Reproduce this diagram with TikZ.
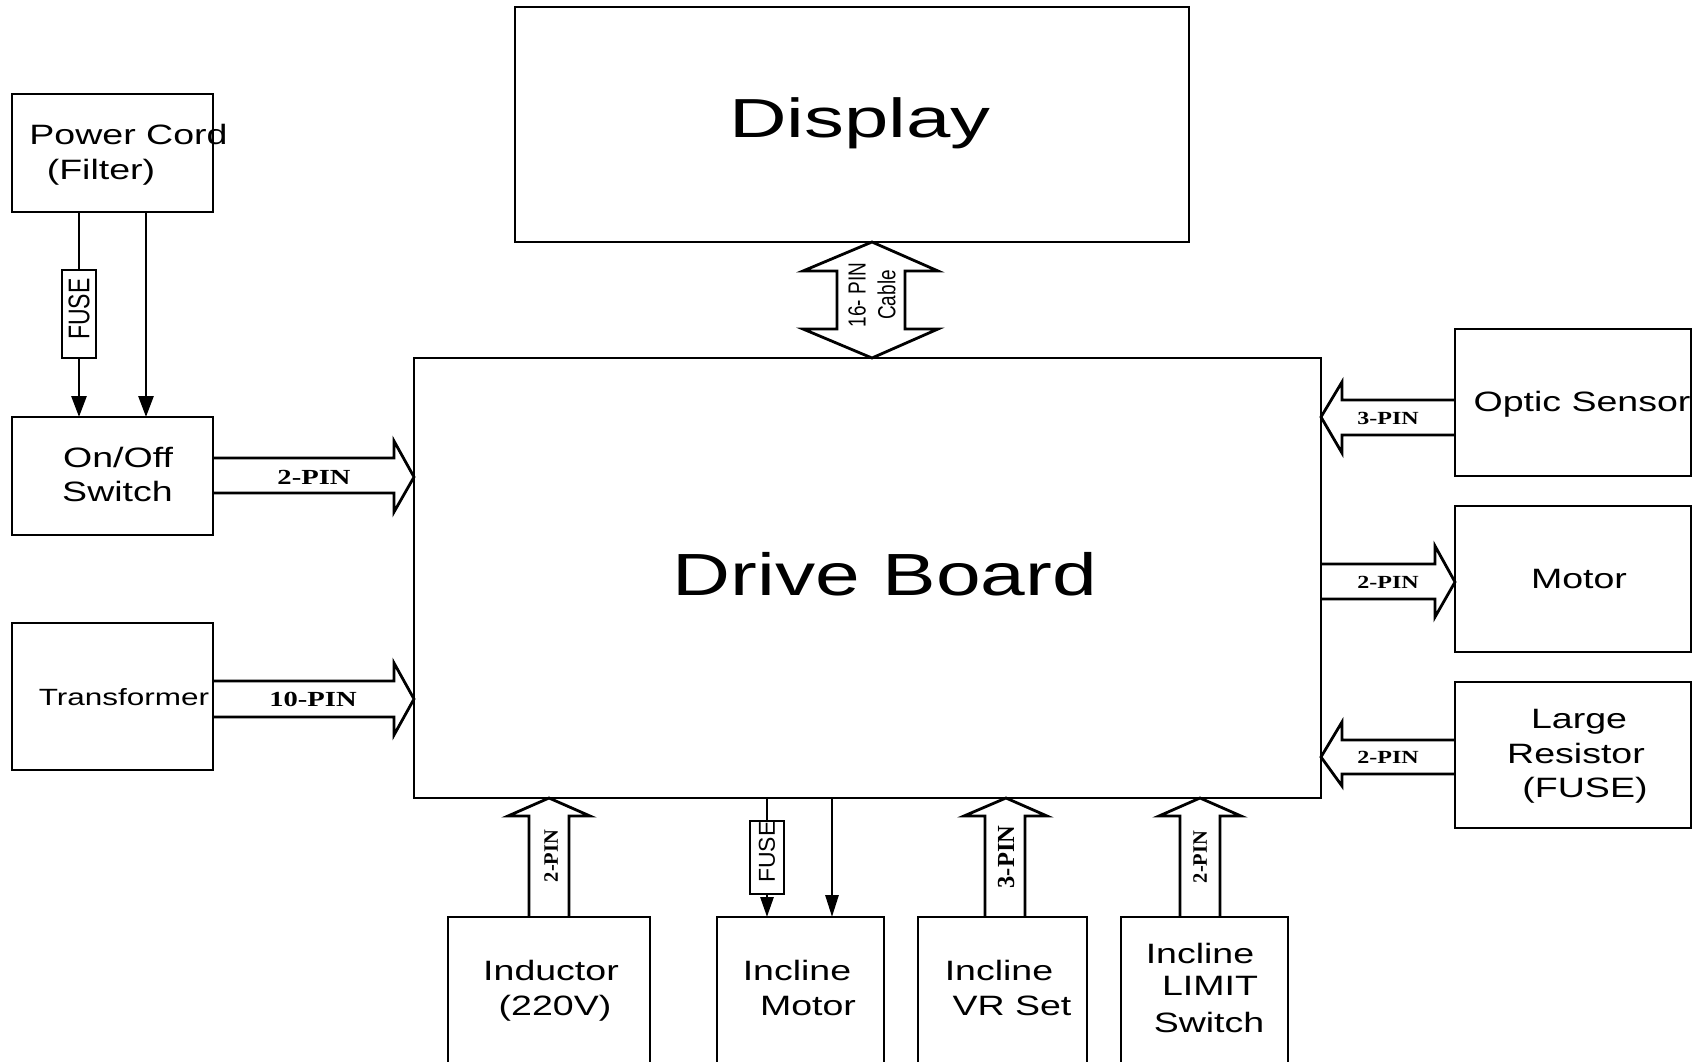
\documentclass[tikz,border=0pt]{standalone}
\usepackage{fontspec}
\setmainfont{Liberation Sans}
\newfontfamily\pinfont{Liberation Serif}
\usetikzlibrary{arrows.meta,calc}
\newcommand\bx[5]{\node[box, minimum width={(#4)-(#2)}, minimum height={(#5)-(#3)}] (#1) at ({((#2)+(#4))/2},{((#3)+(#5))/2}) {};}
\begin{document}
\begin{tikzpicture}[x=1pt,y=-1pt,
  box/.style={draw, line width=2.8pt, inner sep=0pt, outer sep=0pt},
  fat/.style={draw, line width=2.8pt, line join=miter},
  wire/.style={draw, line width=2.8pt},
  arr/.style={wire, -{Triangle[length=21pt,width=15pt]}},
  txt/.style={inner sep=0pt, anchor=base, xscale=1.34, font=\fontsize{28}{34}\selectfont},
  big/.style={inner sep=0pt, anchor=base, xscale=1.35, font=\fontsize{59.5}{70}\selectfont},
  disp/.style={inner sep=0pt, anchor=base, xscale=1.45, font=\fontsize{55}{64}\selectfont},
  pinh/.style={inner sep=0pt, anchor=base, xscale=1.33, font=\pinfont\bfseries\fontsize{21.5}{25}\selectfont},
  pinr/.style={inner sep=0pt, anchor=base, xscale=1.3, font=\pinfont\bfseries\fontsize{18.5}{22}\selectfont},
  pinv/.style={inner sep=0pt, anchor=center, rotate=90, font=\pinfont\bfseries\fontsize{#1}{#1}\selectfont},
  vtxt/.style={inner sep=0pt, anchor=center, rotate=90, yscale=1.3, align=center, font=\fontsize{#1}{23}\selectfont}
]
\useasboundingbox (0,0) rectangle (1701,1062);
\clip (0,0) rectangle (1701,1062);

% boxes
\bx{pc}{12}{94}{213}{212}
\bx{fuse1}{62}{270}{96}{358}
\bx{onoff}{12}{417}{213}{535}
\bx{trans}{12}{623}{213}{770}
\bx{display}{515}{7}{1189}{242}
\bx{drive}{414}{358}{1321}{798}
\bx{optic}{1455}{329}{1691}{476}
\bx{motor}{1455}{506}{1691}{652}
\bx{res}{1455}{682}{1691}{828}
\bx{ind}{448}{917}{650}{1080}
\bx{imotor}{717}{917}{884}{1080}
\bx{vr}{918}{917}{1087}{1080}
\bx{limit}{1121}{917}{1288}{1080}
\bx{fuse2}{750}{821}{784}{894}

% texts
\node[txt] (pc1) at (128.5,145) {Power Cord};
\node[txt] (pc2) at (101,180) {(Filter)};
\node[txt] (on1) at (118,467) {On/Off};
\node[txt] (on2) at (117.5,501) {Switch};
\node[txt, font=\fontsize{23.5}{28}\selectfont] (tr) at (124,705) {Transformer};
\node[disp] (dispt) at (860,138) {Display};
\node[big] (drvt) at (885,595) {Drive Board};
\node[txt] (opt) at (1582,411) {Optic Sensor};
\node[txt] (mot) at (1579,588) {Motor};
\node[txt] (lr1) at (1579,728) {Large};
\node[txt] (lr2) at (1576,763) {Resistor};
\node[txt] (lr3) at (1585,797) {(FUSE)};
\node[txt] (ind1) at (551,980) {Inductor};
\node[txt] (ind2) at (555,1015) {(220V)};
\node[txt] (im1) at (797,980) {Incline};
\node[txt] (im2) at (808,1015) {Motor};
\node[txt] (vr1) at (999,980) {Incline};
\node[txt] (vr2) at (1012,1015) {VR Set};
\node[txt] (li1) at (1200,963) {Incline};
\node[txt] (li2) at (1210,995) {LIMIT};
\node[txt] (li3) at (1209,1032) {Switch};

\node[vtxt=23] (f1t) at (79,309) {FUSE};
\node[vtxt=23, yscale=0.77] (f2t) at (767,852) {FUSE};
\node[vtxt=19] (cab) at (872,295) {16- PIN\\Cable};

\node[pinh] (p1) at (314,484) {2-PIN};
\node[pinh] (p2) at (313,706) {10-PIN};
\node[pinr] (p3) at (1388,424) {3-PIN};
\node[pinr] (p4) at (1388,588) {2-PIN};
\node[pinr] (p5) at (1388,763) {2-PIN};
\node[pinv=20.5] (b1) at (551,856) {2-PIN};
\node[pinv=24.5] (b2) at (1006,857) {3-PIN};
\node[pinv=20.5] (b3) at (1200,857) {2-PIN};

% fat arrows
\draw[fat] (onoff.east |- 0,458) -- (394,458) -- (394,441) -- (drive.west |- 0,477) -- (394,512) -- (394,493) -- (onoff.east |- 0,493);
\draw[fat] (trans.east |- 0,681) -- (394,681) -- (394,663) -- (drive.west |- 0,699) -- (394,735) -- (394,717) -- (trans.east |- 0,717);
\draw[fat] (optic.west |- 0,400) -- (1342,400) -- (1342,382) -- (drive.east |- 0,417) -- (1342,453) -- (1342,435) -- (optic.west |- 0,435);
\draw[fat] (drive.east |- 0,564) -- (1435,564) -- (1435,546) -- (motor.west |- 0,582) -- (1435,617) -- (1435,599) -- (drive.east |- 0,599);
\draw[fat] (res.west |- 0,740) -- (1342,740) -- (1342,722) -- (drive.east |- 0,757) -- (1342,786) -- (1342,774) -- (res.west |- 0,774);
\draw[fat] (display.south -| 872,0) -- (938,271) -- (905,271) -- (905,329) -- (938,329) -- (drive.north -| 872,0) -- (803,329) -- (837,329) -- (837,271) -- (803,271) -- cycle;
\draw[fat] (ind.north -| 529,0) -- (529,816) -- (508,816) -- (drive.south -| 549,0) -- (590,816) -- (569,816) -- (ind.north -| 569,0);
\draw[fat] (vr.north -| 985,0) -- (985,816) -- (964,816) -- (drive.south -| 1006,0) -- (1047,816) -- (1025,816) -- (vr.north -| 1025,0);
\draw[fat] (limit.north -| 1180,0) -- (1180,816) -- (1159,816) -- (drive.south -| 1200,0) -- (1241,816) -- (1220,816) -- (limit.north -| 1220,0);

% thin connectors
\draw[wire] (pc.south -| fuse1.north) -- (fuse1.north);
\draw[arr] (fuse1.south) -- (onoff.north -| fuse1.south);
\draw[arr] (pc.south -| 146,0) -- (onoff.north -| 146,0);
\draw[wire] (drive.south -| fuse2.north) -- (fuse2.north);
\draw[arr, -{Triangle[length=20pt,width=13pt]}] (fuse2.south) -- (imotor.north -| fuse2.south);
\draw[arr, -{Triangle[length=22pt,width=13pt]}] (drive.south -| 832,0) -- (imotor.north -| 832,0);
\end{tikzpicture}
\end{document}
